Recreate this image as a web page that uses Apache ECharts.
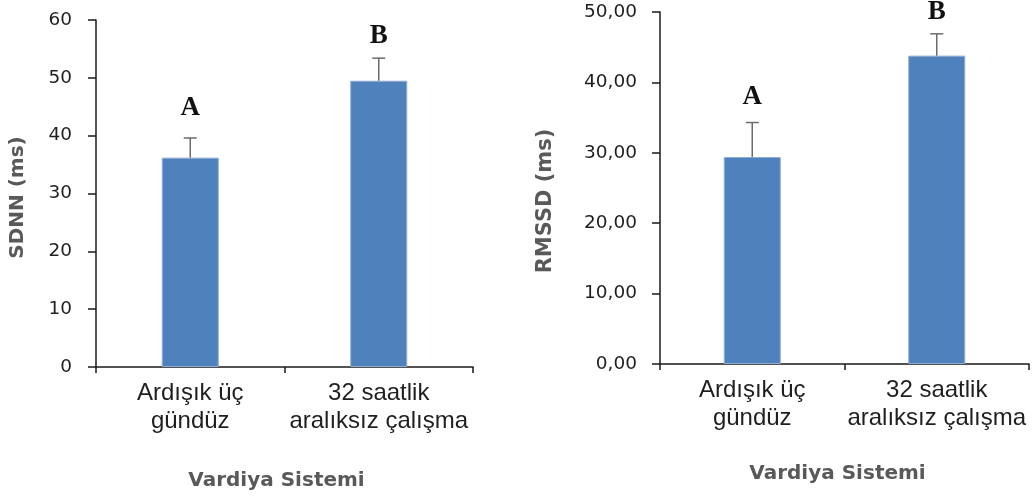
<!DOCTYPE html>
<html><head><meta charset="utf-8">
<script src="https://cdn.jsdelivr.net/npm/echarts@6/dist/echarts.min.js"></script>
<style>html,body{margin:0;padding:0;background:#fff}#c{width:1035px;height:501px}</style>
</head><body><div id="c"></div>
<script>
// ---- data ----
const categories = ['Ardışık üç\ngündüz', '32 saatlik\naralıksız çalışma'];
const xTitle = 'Vardiya Sistemi';

const sdnnTitle = 'SDNN (ms)';
const sdnnMean = [36.2, 49.5];
const sdnnErr = [3.4, 3.9];
const sdnnLetters = ['A', 'B'];
const sdnnLetterY = [44.8, 57.3];
const sdnnAxis = [0, 60, 10]; // min, max, interval

const rmssdTitle = 'RMSSD (ms)';
const rmssdMean = [29.4, 43.8];
const rmssdErr = [4.9, 3.1];
const rmssdLetters = ['A', 'B'];
const rmssdLetterY = [37.9, 50.0];
const rmssdAxis = [0, 50, 10];

// ---- styling ----
const barColor = '#4F81BD';
const errColor = '#6b6b6b';
const axisColor = '#1a1a1a';
const labelColor = '#1f1f1f';
const titleColor = '#595959';

function errRender(params, api) {
  const i = api.value(0);
  const base = api.coord([i, api.value(1)]);
  const top = api.coord([i, api.value(2)]);
  const hw = 6.5;
  const st = { stroke: errColor, lineWidth: 1.5 };
  return { type: 'group', children: [
    { type: 'line', shape: { x1: base[0], y1: base[1], x2: top[0], y2: top[1] }, style: st },
    { type: 'line', shape: { x1: top[0] - hw, y1: top[1], x2: top[0] + hw, y2: top[1] }, style: st }
  ]};
}
function letterRender(letters) {
  return function (params, api) {
    const p = api.coord([api.value(0), api.value(1)]);
    return { type: 'text', x: p[0], y: p[1], style: {
      text: letters[params.dataIndex], fill: '#111', font: 'bold 27px "Liberation Serif"',
      align: 'center', verticalAlign: 'middle' } };
  };
}

function xAxisCfg(gridIndex, namePadRight, nameGap) {
  return {
    type: 'category', gridIndex, data: categories,
    axisLine: { show: true, lineStyle: { color: axisColor, width: 1.5 } },
    axisTick: { show: true, length: 6, lineStyle: { color: axisColor, width: 1.5 } },
    axisLabel: { interval: 0, margin: 12, color: labelColor, fontFamily: 'Liberation Sans', fontSize: 24, lineHeight: 28 },
    name: xTitle, nameLocation: 'middle', nameGap,
    nameTextStyle: { fontFamily: 'DejaVu Sans', fontWeight: 'bold', fontSize: 20, color: titleColor, padding: [0, namePadRight, 0, 0] }
  };
}
function yAxisCfg(gridIndex, ax, fmt, title, nameGap, namePadRight, labelMargin, nameSize) {
  return {
    type: 'value', gridIndex, min: ax[0], max: ax[1], interval: ax[2],
    axisLine: { show: true, lineStyle: { color: axisColor, width: 1.5 } },
    axisTick: { show: true, length: 8, lineStyle: { color: axisColor, width: 1.5 } },
    splitLine: { show: false },
    axisLabel: { margin: labelMargin, color: labelColor, fontFamily: 'DejaVu Sans', fontSize: 18.5, formatter: fmt },
    name: title, nameLocation: 'middle', nameGap,
    nameTextStyle: { fontFamily: 'DejaVu Sans', fontWeight: 'bold', fontSize: nameSize, color: titleColor, padding: [0, namePadRight, 0, 0] }
  };
}

const chart = echarts.init(document.getElementById('c'), null, { renderer: 'canvas' });
chart.setOption({
  animation: false,
  backgroundColor: '#fff',
  grid: [
    { left: 96, top: 20, width: 377, height: 347 },
    { left: 660, top: 12, width: 369, height: 352 }
  ],
  xAxis: [xAxisCfg(0, 16, 104), xAxisCfg(1, 14, 100)],
  yAxis: [
    yAxisCfg(0, sdnnAxis, v => String(v), sdnnTitle, 68, 8, 24, 20),
    yAxisCfg(1, rmssdAxis, v => v.toFixed(2).replace('.', ','), rmssdTitle, 104, 26, 23, 21)
  ],
  series: [
    { type: 'bar', xAxisIndex: 0, yAxisIndex: 0, data: sdnnMean, barWidth: 57,
      itemStyle: { color: barColor, borderColor: '#8eabd6', borderWidth: 1 } },
    { type: 'custom', xAxisIndex: 0, yAxisIndex: 0, renderItem: errRender, encode: { x: 0, y: [1, 2] },
      data: sdnnMean.map((m, i) => [i, m, m + sdnnErr[i]]), z: 3 },
    { type: 'custom', xAxisIndex: 0, yAxisIndex: 0, renderItem: letterRender(sdnnLetters), encode: { x: 0, y: 1 },
      data: sdnnLetterY.map((y, i) => [i, y]), z: 4 },
    { type: 'bar', xAxisIndex: 1, yAxisIndex: 1, data: rmssdMean, barWidth: 57,
      itemStyle: { color: barColor, borderColor: '#8eabd6', borderWidth: 1 } },
    { type: 'custom', xAxisIndex: 1, yAxisIndex: 1, renderItem: errRender, encode: { x: 0, y: [1, 2] },
      data: rmssdMean.map((m, i) => [i, m, m + rmssdErr[i]]), z: 3 },
    { type: 'custom', xAxisIndex: 1, yAxisIndex: 1, renderItem: letterRender(rmssdLetters), encode: { x: 0, y: 1 },
      data: rmssdLetterY.map((y, i) => [i, y]), z: 4 }
  ]
});
</script>
</body></html>
